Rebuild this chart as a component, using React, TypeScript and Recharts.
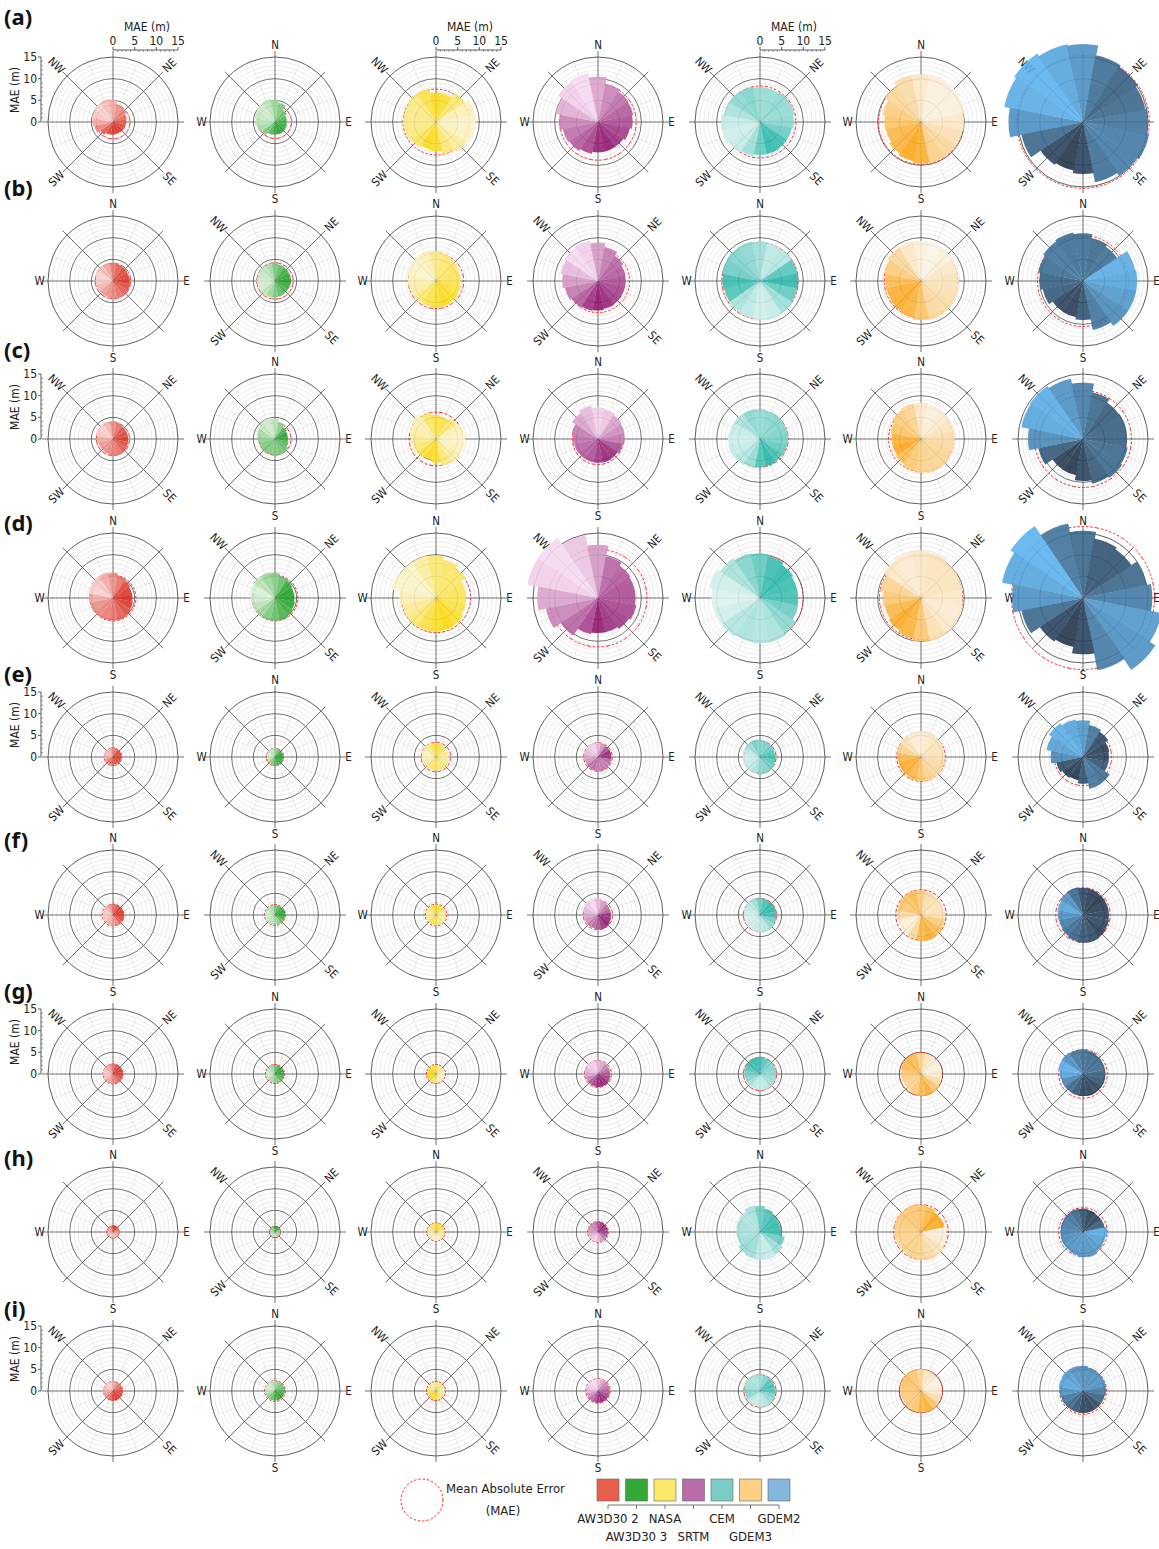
import React from 'react';
import { RadialBarChart, RadialBar, PolarAngleAxis, PolarRadiusAxis, PolarGrid, Cell } from 'recharts';

// 16 sectors, clockwise from north
const DIRS = ['N', 'NNE', 'NE', 'ENE', 'E', 'ESE', 'SE', 'SSE', 'S', 'SSW', 'SW', 'WSW', 'W', 'WNW', 'NW', 'NNW'];
const PRODUCTS = ['AW3D30 2', 'AW3D30 3', 'NASA', 'SRTM', 'CEM', 'GDEM3', 'GDEM2'];
const PANEL_TAGS = ['(a)', '(b)', '(c)', '(d)', '(e)', '(f)', '(g)', '(h)', '(i)'];
const COMPASS_TICKS = [0, 45, 90, 135, 180, 225, 270, 315];
const MAE_TICKS = [0, 1, 2, 3, 4, 5, 6, 7, 8, 9, 10, 11, 12, 13, 14, 15];

// row (a)
const barsA = [
  [5.4, 5.2, 4.2, 3.8, 3.3, 3.1, 3.0, 2.9, 2.8, 2.9, 3.0, 3.6, 4.4, 4.8, 5.0, 5.3],
  [5.4, 5.2, 4.5, 3.3, 2.8, 2.7, 2.8, 2.9, 2.9, 2.9, 3.0, 3.6, 4.2, 4.6, 4.8, 5.2],
  [7.8, 6.8, 6.8, 8.0, 9.0, 9.2, 8.8, 8.5, 7.6, 6.8, 6.5, 7.0, 7.4, 7.6, 7.6, 8.0],
  [11.5, 10.5, 9.0, 8.5, 8.3, 8.0, 7.5, 7.0, 7.0, 7.0, 7.5, 8.0, 8.3, 9.0, 10.0, 11.0],
  [8.3, 8.0, 8.0, 8.2, 8.2, 7.8, 7.5, 7.5, 7.6, 7.6, 8.0, 8.5, 9.0, 9.0, 8.6, 8.5],
  [11.0, 11.0, 11.0, 10.8, 10.5, 10.0, 9.8, 9.8, 9.6, 9.6, 9.2, 8.8, 8.3, 8.5, 9.0, 10.0],
  [18.3, 18.0, 15.7, 15.2, 14.7, 15.0, 15.5, 14.9, 14.2, 12.0, 11.4, 11.8, 14.5, 17.2, 18.5, 19.0],
];
const maeA = [3.9, 3.8, 7.6, 8.8, 8.3, 9.8, 15.3];
const shadeA = [
  [0.2, 0.3, 0.45, 0.55, 0.65, 0.75, 0.85, 0.9, 0.95, 0.9, 0.85, 0.7, 0.5, 0.3, 0.15, 0.1],
  [0.2, 0.35, 0.5, 0.6, 0.7, 0.8, 0.85, 0.9, 0.95, 0.85, 0.7, 0.5, 0.3, 0.2, 0.15, 0.1],
  [0.7, 0.9, 0.8, 0.5, 0.2, 0.1, 0.15, 0.3, 0.5, 0.85, 0.9, 0.6, 0.45, 0.4, 0.4, 0.45],
  [0.05, 0.3, 0.45, 0.55, 0.65, 0.7, 0.8, 0.85, 0.95, 0.9, 0.75, 0.65, 0.55, 0.45, 0.25, 0.1],
  [0.5, 0.4, 0.4, 0.45, 0.4, 0.45, 0.6, 0.85, 0.9, 0.65, 0.35, 0.15, 0.1, 0.15, 0.3, 0.45],
  [0.3, 0.15, 0.05, 0.05, 0.05, 0.15, 0.25, 0.35, 0.45, 0.85, 0.95, 0.8, 0.75, 0.6, 0.5, 0.35],
  [0.15, 0.3, 0.55, 0.65, 0.6, 0.5, 0.45, 0.45, 0.55, 0.85, 0.95, 0.85, 0.6, 0.3, 0.1, 0.05],
];

// row (b)
const barsB = [
  [4.3, 4.2, 4.0, 3.9, 3.8, 3.9, 4.0, 4.0, 4.1, 4.0, 3.9, 3.9, 3.9, 4.0, 4.2, 4.3],
  [4.2, 4.1, 3.9, 3.8, 3.7, 3.7, 3.6, 3.6, 3.7, 3.8, 3.9, 4.0, 4.0, 4.1, 4.2, 4.3],
  [7.2, 7.0, 6.5, 6.0, 5.7, 5.7, 5.8, 6.0, 6.1, 6.1, 6.0, 6.0, 6.1, 6.5, 6.8, 7.0],
  [9.5, 8.8, 8.0, 7.0, 6.5, 6.4, 6.4, 6.5, 6.6, 6.8, 7.0, 7.3, 7.8, 8.3, 8.8, 9.3],
  [9.3, 9.1, 8.9, 8.8, 8.8, 8.8, 8.8, 9.0, 9.2, 9.1, 8.8, 8.6, 8.5, 8.7, 9.0, 9.2],
  [9.4, 9.3, 9.0, 8.8, 8.7, 8.7, 8.8, 9.0, 9.2, 9.0, 8.7, 8.3, 8.2, 8.3, 8.7, 9.2],
  [11.4, 11.0, 10.0, 9.5, 12.3, 12.5, 12.5, 12.5, 11.5, 9.0, 8.5, 8.5, 9.5, 10.0, 10.5, 11.0],
];
const maeB = [4.1, 4.2, 6.4, 7.3, 8.8, 8.5, 10.5];
const shadeB = [
  [0.35, 0.55, 0.7, 0.8, 0.85, 0.9, 0.8, 0.7, 0.6, 0.5, 0.45, 0.35, 0.25, 0.15, 0.1, 0.2],
  [0.3, 0.5, 0.65, 0.8, 0.9, 0.95, 0.85, 0.75, 0.65, 0.5, 0.35, 0.2, 0.1, 0.1, 0.15, 0.2],
  [0.2, 0.4, 0.5, 0.55, 0.6, 0.65, 0.75, 0.85, 0.9, 0.8, 0.7, 0.5, 0.3, 0.2, 0.1, 0.1],
  [0.1, 0.35, 0.5, 0.6, 0.65, 0.7, 0.75, 0.8, 0.9, 0.95, 0.85, 0.65, 0.5, 0.35, 0.2, 0.05],
  [0.45, 0.35, 0.2, 0.25, 0.7, 0.9, 0.65, 0.35, 0.15, 0.1, 0.2, 0.3, 0.75, 0.85, 0.6, 0.5],
  [0.15, 0.05, 0.0, 0.05, 0.15, 0.2, 0.25, 0.3, 0.35, 0.6, 0.8, 0.9, 0.85, 0.7, 0.5, 0.35],
  [0.55, 0.55, 0.6, 0.55, 0.1, 0.15, 0.25, 0.35, 0.5, 0.75, 0.9, 0.85, 0.7, 0.65, 0.55, 0.5],
];

// row (c)
const barsC = [
  [4.2, 4.1, 3.9, 3.6, 3.5, 3.5, 3.6, 3.8, 3.9, 3.8, 3.6, 3.5, 3.5, 3.7, 4.0, 4.2],
  [5.0, 4.7, 4.0, 3.3, 3.0, 3.0, 3.2, 3.6, 3.8, 3.8, 3.7, 3.7, 3.7, 3.9, 4.3, 4.8],
  [6.2, 5.6, 5.3, 5.8, 6.5, 6.8, 6.5, 6.7, 6.3, 5.5, 5.0, 5.3, 5.5, 5.8, 6.3, 6.9],
  [7.8, 7.3, 7.0, 6.6, 6.3, 6.2, 5.8, 5.5, 5.6, 5.5, 5.5, 5.5, 5.6, 5.8, 6.2, 7.2],
  [7.0, 6.9, 6.7, 6.6, 6.5, 6.5, 6.4, 6.3, 6.4, 6.5, 6.8, 7.2, 7.5, 7.4, 7.2, 7.1],
  [8.4, 8.4, 8.2, 8.0, 7.8, 7.8, 7.8, 8.0, 8.0, 7.8, 7.5, 7.0, 6.7, 6.8, 7.2, 8.0],
  [14.2, 13.0, 11.0, 10.0, 10.2, 10.2, 10.5, 10.8, 10.5, 9.7, 8.5, 8.5, 10.5, 12.7, 14.5, 14.7],
];
const maeC = [3.8, 3.7, 6.2, 5.9, 6.5, 7.5, 11.2];
const shadeC = [
  [0.25, 0.45, 0.6, 0.75, 0.85, 0.9, 0.8, 0.7, 0.6, 0.55, 0.5, 0.45, 0.4, 0.3, 0.15, 0.1],
  [0.1, 0.2, 0.45, 0.75, 0.95, 0.85, 0.7, 0.6, 0.55, 0.5, 0.5, 0.55, 0.5, 0.4, 0.3, 0.15],
  [0.55, 0.75, 0.7, 0.5, 0.2, 0.1, 0.15, 0.25, 0.5, 0.85, 0.9, 0.75, 0.5, 0.35, 0.25, 0.2],
  [0.2, 0.1, 0.15, 0.3, 0.4, 0.5, 0.7, 0.85, 0.9, 0.8, 0.7, 0.65, 0.6, 0.55, 0.5, 0.3],
  [0.45, 0.4, 0.45, 0.5, 0.5, 0.55, 0.65, 0.8, 0.95, 0.75, 0.4, 0.25, 0.15, 0.1, 0.15, 0.3],
  [0.4, 0.15, 0.05, 0.1, 0.2, 0.3, 0.35, 0.4, 0.4, 0.45, 0.55, 0.7, 0.95, 0.8, 0.6, 0.5],
  [0.3, 0.45, 0.6, 0.7, 0.65, 0.65, 0.6, 0.6, 0.7, 0.85, 0.95, 0.9, 0.7, 0.35, 0.15, 0.1],
];

// row (d)
const barsD = [
  [6.0, 5.8, 5.3, 4.8, 4.5, 4.5, 4.7, 5.0, 5.2, 5.2, 5.2, 5.3, 5.4, 5.6, 5.8, 6.0],
  [6.0, 5.8, 5.2, 4.8, 4.5, 4.5, 4.7, 5.0, 5.3, 5.3, 5.3, 5.4, 5.4, 5.6, 5.8, 6.0],
  [10.0, 9.8, 9.0, 8.3, 7.0, 7.0, 7.0, 7.5, 7.7, 7.8, 7.8, 8.0, 8.0, 8.5, 10.5, 10.0],
  [14.8, 12.3, 9.8, 9.0, 8.7, 8.7, 9.0, 8.6, 8.1, 8.1, 8.5, 10.4, 12.3, 14.0, 16.6, 16.7],
  [10.5, 10.3, 9.8, 9.2, 8.8, 8.8, 9.0, 10.0, 10.5, 10.5, 10.3, 10.6, 10.8, 11.2, 11.8, 11.0],
  [11.1, 11.0, 10.7, 10.0, 9.7, 9.6, 9.8, 10.0, 10.2, 10.0, 9.5, 9.0, 8.6, 8.8, 9.5, 10.5],
  [17.5, 15.5, 14.0, 13.5, 15.0, 16.0, 18.5, 20.0, 17.0, 13.0, 11.5, 12.0, 14.5, 16.4, 19.0, 20.0],
];
const maeD = [5.3, 5.3, 8.0, 11.3, 10.0, 9.6, 16.5];
const shadeD = [
  [0.3, 0.45, 0.6, 0.8, 0.9, 0.95, 0.9, 0.8, 0.7, 0.6, 0.55, 0.5, 0.45, 0.3, 0.1, 0.15],
  [0.35, 0.45, 0.6, 0.85, 0.95, 0.95, 0.9, 0.8, 0.75, 0.6, 0.5, 0.35, 0.2, 0.1, 0.05, 0.2],
  [0.3, 0.5, 0.55, 0.55, 0.6, 0.65, 0.7, 0.85, 0.95, 0.85, 0.7, 0.5, 0.35, 0.2, 0.1, 0.1],
  [0.15, 0.35, 0.6, 0.65, 0.7, 0.7, 0.75, 0.8, 0.85, 0.95, 0.75, 0.6, 0.45, 0.3, 0.1, 0.05],
  [0.5, 0.65, 0.85, 0.9, 0.85, 0.8, 0.6, 0.45, 0.3, 0.25, 0.3, 0.25, 0.1, 0.05, 0.1, 0.3],
  [0.1, 0.15, 0.2, 0.2, 0.2, 0.15, 0.1, 0.15, 0.25, 0.55, 0.8, 0.9, 0.75, 0.55, 0.4, 0.15],
  [0.5, 0.6, 0.75, 0.75, 0.6, 0.45, 0.25, 0.3, 0.45, 0.85, 0.95, 0.85, 0.6, 0.3, 0.15, 0.05],
];

// row (e)
const barsE = [
  [2.3, 2.3, 2.1, 2.0, 2.0, 1.9, 1.9, 1.9, 1.8, 1.8, 1.8, 1.8, 1.9, 2.1, 2.2, 2.3],
  [2.1, 2.1, 2.0, 1.9, 1.9, 1.9, 1.9, 2.0, 2.0, 2.0, 1.9, 1.8, 1.8, 1.9, 2.0, 2.1],
  [3.4, 3.3, 3.1, 3.0, 2.9, 2.9, 3.0, 3.1, 3.2, 3.1, 3.0, 3.1, 3.2, 3.3, 3.4, 3.5],
  [3.4, 3.3, 3.2, 3.1, 3.1, 3.1, 3.1, 3.2, 3.3, 3.3, 3.2, 3.1, 3.1, 3.2, 3.3, 3.4],
  [4.1, 4.0, 3.8, 3.6, 3.5, 3.5, 3.6, 3.8, 4.0, 4.0, 3.9, 3.9, 3.9, 4.0, 4.1, 4.1],
  [6.0, 6.0, 5.9, 5.7, 5.5, 5.5, 5.6, 5.7, 5.7, 5.6, 5.5, 5.3, 5.3, 5.4, 5.6, 5.9],
  [8.8, 8.5, 7.5, 7.0, 6.2, 6.0, 6.0, 7.4, 7.5, 6.2, 5.5, 5.8, 6.3, 7.5, 8.6, 9.4],
];
const maeE = [2.0, 2.0, 3.4, 3.3, 3.7, 5.6, 6.6];
const shadeE = [
  [0.3, 0.5, 0.65, 0.8, 0.85, 0.9, 0.9, 0.85, 0.8, 0.75, 0.7, 0.6, 0.45, 0.3, 0.2, 0.2],
  [0.2, 0.35, 0.55, 0.75, 0.9, 0.95, 0.9, 0.85, 0.8, 0.7, 0.55, 0.4, 0.25, 0.15, 0.1, 0.15],
  [0.55, 0.85, 0.7, 0.5, 0.4, 0.3, 0.4, 0.45, 0.5, 0.6, 0.65, 0.4, 0.25, 0.15, 0.15, 0.3],
  [0.1, 0.2, 0.4, 0.7, 0.9, 0.85, 0.6, 0.5, 0.55, 0.5, 0.6, 0.55, 0.4, 0.3, 0.2, 0.1],
  [0.55, 0.5, 0.55, 0.6, 0.75, 0.85, 0.7, 0.6, 0.5, 0.45, 0.3, 0.2, 0.15, 0.1, 0.2, 0.35],
  [0.1, 0.1, 0.15, 0.2, 0.2, 0.25, 0.3, 0.35, 0.4, 0.55, 0.75, 0.85, 0.9, 0.7, 0.4, 0.2],
  [0.15, 0.25, 0.5, 0.8, 0.9, 0.85, 0.75, 0.55, 0.5, 0.75, 0.95, 0.9, 0.8, 0.35, 0.2, 0.1],
];

// row (f)
const barsF = [
  [2.6, 2.6, 2.5, 2.5, 2.5, 2.5, 2.6, 2.6, 2.7, 2.6, 2.5, 2.4, 2.3, 2.4, 2.5, 2.6],
  [2.3, 2.3, 2.3, 2.3, 2.4, 2.4, 2.3, 2.3, 2.3, 2.3, 2.2, 2.2, 2.2, 2.2, 2.3, 2.3],
  [2.4, 2.4, 2.4, 2.3, 2.3, 2.3, 2.4, 2.4, 2.4, 2.4, 2.3, 2.3, 2.3, 2.3, 2.4, 2.4],
  [4.0, 3.8, 3.4, 3.1, 3.0, 3.0, 3.1, 3.3, 3.4, 3.3, 3.2, 3.2, 3.2, 3.4, 3.6, 3.9],
  [4.0, 3.9, 3.8, 3.7, 3.7, 3.7, 3.8, 4.0, 4.1, 4.0, 3.9, 3.8, 3.7, 3.7, 3.8, 3.9],
  [5.8, 5.7, 5.5, 5.4, 5.4, 5.5, 5.7, 5.9, 6.1, 6.0, 5.7, 5.4, 5.3, 5.4, 5.6, 5.8],
  [6.5, 6.3, 6.2, 6.1, 6.0, 6.0, 6.1, 6.3, 6.5, 6.4, 6.2, 5.9, 5.7, 5.8, 6.0, 6.3],
];
const maeF = [2.5, 2.4, 2.5, 3.4, 3.8, 5.8, 6.3];
const shadeF = [
  [0.4, 0.6, 0.75, 0.9, 0.95, 0.9, 0.85, 0.7, 0.5, 0.4, 0.3, 0.25, 0.2, 0.15, 0.15, 0.2],
  [0.3, 0.5, 0.7, 0.85, 0.95, 0.9, 0.8, 0.6, 0.4, 0.3, 0.25, 0.2, 0.15, 0.1, 0.15, 0.2],
  [0.7, 0.9, 0.8, 0.6, 0.4, 0.3, 0.3, 0.4, 0.5, 0.6, 0.7, 0.55, 0.4, 0.3, 0.3, 0.45],
  [0.05, 0.2, 0.35, 0.5, 0.65, 0.85, 0.9, 0.95, 0.85, 0.7, 0.6, 0.5, 0.4, 0.3, 0.2, 0.1],
  [0.35, 0.6, 0.8, 0.9, 0.95, 0.85, 0.6, 0.4, 0.25, 0.2, 0.15, 0.1, 0.1, 0.1, 0.15, 0.2],
  [0.7, 0.5, 0.3, 0.25, 0.2, 0.25, 0.5, 0.7, 0.85, 0.75, 0.35, 0.1, 0.05, 0.3, 0.55, 0.6],
  [0.6, 0.8, 0.9, 0.95, 0.9, 0.85, 0.85, 0.9, 0.8, 0.75, 0.65, 0.55, 0.45, 0.3, 0.15, 0.3],
];

// row (g)
const barsG = [
  [2.4, 2.4, 2.3, 2.3, 2.3, 2.3, 2.3, 2.3, 2.3, 2.3, 2.2, 2.2, 2.2, 2.3, 2.3, 2.4],
  [2.1, 2.1, 2.1, 2.1, 2.1, 2.1, 2.1, 2.1, 2.1, 2.1, 2.0, 2.0, 2.0, 2.0, 2.1, 2.1],
  [2.1, 2.1, 2.0, 2.0, 2.0, 2.0, 2.0, 2.1, 2.1, 2.1, 2.0, 2.0, 2.0, 2.0, 2.1, 2.1],
  [3.2, 3.1, 3.0, 2.9, 2.8, 2.8, 2.9, 3.0, 3.0, 3.0, 2.9, 2.9, 2.9, 3.0, 3.1, 3.2],
  [3.9, 3.9, 3.8, 3.7, 3.7, 3.7, 3.7, 3.8, 3.8, 3.7, 3.6, 3.5, 3.5, 3.6, 3.7, 3.8],
  [4.9, 4.9, 4.8, 4.7, 4.7, 4.8, 4.9, 5.1, 5.2, 5.1, 4.9, 4.6, 4.5, 4.6, 4.8, 4.9],
  [5.7, 5.7, 5.5, 5.3, 5.2, 5.2, 5.2, 5.2, 5.2, 5.1, 5.0, 5.0, 5.1, 5.4, 5.8, 5.9],
];
const maeG = [2.3, 2.2, 2.2, 3.1, 3.8, 5.0, 5.6];
const shadeG = [
  [0.4, 0.6, 0.8, 0.9, 0.95, 0.9, 0.8, 0.7, 0.6, 0.5, 0.4, 0.3, 0.2, 0.15, 0.2, 0.3],
  [0.35, 0.55, 0.75, 0.9, 0.95, 0.9, 0.8, 0.7, 0.55, 0.45, 0.35, 0.25, 0.15, 0.1, 0.15, 0.25],
  [0.8, 0.7, 0.5, 0.35, 0.2, 0.15, 0.1, 0.15, 0.25, 0.4, 0.6, 0.8, 0.9, 0.95, 0.9, 0.85],
  [0.1, 0.2, 0.3, 0.45, 0.6, 0.7, 0.8, 0.9, 0.95, 0.9, 0.8, 0.65, 0.45, 0.3, 0.2, 0.1],
  [0.9, 0.85, 0.7, 0.55, 0.5, 0.45, 0.4, 0.3, 0.2, 0.15, 0.2, 0.3, 0.5, 0.6, 0.7, 0.85],
  [0.7, 0.4, 0.2, 0.1, 0.05, 0.1, 0.3, 0.55, 0.85, 0.7, 0.5, 0.4, 0.45, 0.55, 0.7, 0.75],
  [0.5, 0.55, 0.6, 0.6, 0.6, 0.65, 0.75, 0.85, 0.9, 0.85, 0.75, 0.6, 0.4, 0.15, 0.1, 0.3],
];

// row (h)
const barsH = [
  [1.4, 1.5, 1.5, 1.4, 1.4, 1.3, 1.3, 1.3, 1.3, 1.3, 1.3, 1.3, 1.3, 1.3, 1.4, 1.4],
  [1.3, 1.4, 1.4, 1.3, 1.3, 1.3, 1.2, 1.2, 1.2, 1.2, 1.2, 1.2, 1.2, 1.2, 1.3, 1.3],
  [2.1, 2.1, 2.1, 2.0, 2.0, 2.0, 2.0, 2.0, 2.1, 2.1, 2.0, 2.0, 2.0, 2.0, 2.1, 2.1],
  [2.4, 2.4, 2.4, 2.3, 2.3, 2.3, 2.3, 2.3, 2.4, 2.4, 2.3, 2.3, 2.3, 2.3, 2.4, 2.4],
  [6.3, 6.0, 5.5, 5.0, 4.8, 5.0, 5.8, 6.3, 6.6, 6.5, 6.3, 6.0, 5.4, 5.5, 5.6, 5.8],
  [6.5, 6.3, 6.0, 5.5, 5.6, 5.8, 6.0, 6.5, 6.7, 6.5, 6.3, 6.0, 6.0, 6.2, 6.3, 6.4],
  [5.5, 5.4, 5.2, 5.0, 5.0, 5.6, 5.3, 5.5, 5.9, 5.8, 5.5, 5.3, 5.3, 5.2, 5.3, 5.4],
];
const maeH = [1.4, 1.3, 2.1, 2.4, 5.0, 6.3, 5.6];
const shadeH = [
  [0.5, 0.8, 0.95, 0.8, 0.6, 0.4, 0.3, 0.25, 0.2, 0.15, 0.15, 0.15, 0.2, 0.25, 0.3, 0.4],
  [0.5, 0.85, 0.95, 0.8, 0.6, 0.4, 0.3, 0.25, 0.2, 0.15, 0.15, 0.15, 0.2, 0.25, 0.3, 0.4],
  [0.6, 0.85, 0.9, 0.7, 0.5, 0.35, 0.25, 0.2, 0.15, 0.1, 0.1, 0.15, 0.2, 0.25, 0.35, 0.45],
  [0.5, 0.7, 0.85, 0.95, 0.9, 0.8, 0.7, 0.5, 0.35, 0.2, 0.1, 0.15, 0.25, 0.35, 0.4, 0.45],
  [0.3, 0.6, 0.75, 0.85, 0.9, 0.85, 0.6, 0.35, 0.15, 0.2, 0.35, 0.4, 0.35, 0.3, 0.3, 0.25],
  [0.55, 0.6, 0.75, 0.95, 0.9, 0.05, 0.1, 0.2, 0.3, 0.4, 0.45, 0.45, 0.4, 0.45, 0.5, 0.55],
  [0.6, 0.75, 0.9, 0.85, 0.7, 0.1, 0.2, 0.25, 0.3, 0.3, 0.3, 0.3, 0.35, 0.4, 0.45, 0.5],
];

// row (i)
const barsI = [
  [2.3, 2.3, 2.3, 2.3, 2.2, 2.2, 2.2, 2.2, 2.2, 2.2, 2.2, 2.2, 2.2, 2.3, 2.3, 2.3],
  [2.4, 2.4, 2.4, 2.3, 2.3, 2.3, 2.2, 2.2, 2.2, 2.2, 2.2, 2.2, 2.3, 2.3, 2.4, 2.4],
  [2.1, 2.1, 2.1, 2.0, 2.0, 2.0, 2.0, 2.0, 2.0, 2.0, 2.0, 2.0, 2.0, 2.0, 2.1, 2.1],
  [2.8, 2.8, 2.7, 2.7, 2.7, 2.7, 2.7, 2.7, 2.7, 2.7, 2.7, 2.7, 2.7, 2.7, 2.8, 2.8],
  [3.9, 3.8, 3.7, 3.6, 3.5, 3.5, 3.6, 3.7, 3.8, 3.7, 3.6, 3.5, 3.5, 3.6, 3.8, 3.9],
  [5.1, 5.1, 5.0, 4.8, 4.7, 4.7, 4.8, 5.0, 5.1, 5.0, 4.9, 4.8, 4.7, 4.8, 5.0, 5.1],
  [5.9, 5.8, 5.6, 5.5, 5.4, 5.3, 5.0, 5.0, 5.0, 5.0, 5.0, 5.1, 5.2, 5.4, 5.7, 5.9],
];
const maeI = [2.2, 2.4, 2.2, 2.8, 3.7, 5.0, 5.4];
const shadeI = [
  [0.15, 0.3, 0.45, 0.6, 0.7, 0.8, 0.85, 0.9, 0.95, 0.85, 0.7, 0.55, 0.4, 0.3, 0.2, 0.1],
  [0.2, 0.3, 0.45, 0.55, 0.65, 0.75, 0.85, 0.95, 0.9, 0.8, 0.65, 0.5, 0.35, 0.2, 0.1, 0.1],
  [0.3, 0.4, 0.5, 0.45, 0.3, 0.2, 0.25, 0.4, 0.6, 0.8, 0.9, 0.85, 0.7, 0.5, 0.35, 0.3],
  [0.05, 0.15, 0.3, 0.45, 0.55, 0.65, 0.75, 0.85, 0.95, 0.85, 0.7, 0.55, 0.4, 0.25, 0.15, 0.05],
  [0.3, 0.35, 0.5, 0.7, 0.85, 0.75, 0.5, 0.35, 0.25, 0.2, 0.15, 0.2, 0.45, 0.5, 0.35, 0.3],
  [0.55, 0.35, 0.2, 0.1, 0.05, 0.1, 0.3, 0.6, 0.85, 0.75, 0.6, 0.5, 0.5, 0.55, 0.6, 0.6],
  [0.3, 0.35, 0.35, 0.3, 0.3, 0.45, 0.65, 0.8, 0.9, 0.85, 0.75, 0.6, 0.5, 0.3, 0.15, 0.2],
];

const ROW_BARS = [barsA, barsB, barsC, barsD, barsE, barsF, barsG, barsH, barsI];
const ROW_MAE = [maeA, maeB, maeC, maeD, maeE, maeF, maeG, maeH, maeI];
const ROW_SHADE = [shadeA, shadeB, shadeC, shadeD, shadeE, shadeF, shadeG, shadeH, shadeI];

// colour ramps per product (light -> dark)
const LIGHT = ['#fbe4e1', '#e3f4df', '#fbf5dc', '#fbe3f6', '#e2f5f3', '#fbf3e6', '#5cb8f8'];
const DARK = ['#d81e10', '#0f9a17', '#fcd700', '#880866', '#15afa1', '#fca00a', '#1b2a3e'];
const LEGEND_COLORS = ['#e8604c', '#36a83a', '#fde96a', '#b96ca9', '#79cdc5', '#fed083', '#84b7de'];

// layout
const S = 200;
const R = 65;
const MAX = 15;
const START = 101.25;
const END = -258.75;
const COL_X = [113, 275, 436, 598, 760, 921, 1083];
const ROW_Y = [122, 281, 439, 598, 757, 915, 1074, 1232, 1391];
const TAG_Y = [25, 196, 358, 531, 682, 848, 999, 1166, 1317];
const NARROW = "'Liberation Sans Narrow', 'DejaVu Sans Condensed', 'Roboto Condensed', 'Noto Sans', sans-serif";
const GRID_DARK = '#4d4d4d';

const FINE_R = [1, 2, 3, 4, 6, 7, 8, 9, 11, 12, 13, 14].map(v => (v * R) / MAX);
const MAJOR_R = [5, 10].map(v => (v * R) / MAX);
const MAJOR_ANGLES = COMPASS_TICKS.map(a => 90 - a);
const MINOR_ANGLES = COMPASS_TICKS.map(a => 90 - a - 22.5);

function hexRgb(h: string) {
  return [1, 3, 5].map(i => parseInt(h.slice(i, i + 2), 16));
}
function mix(a: string, b: string, t: number) {
  const A = hexRgb(a);
  const B = hexRgb(b);
  return `rgb(${A.map((v, i) => Math.round(v + (B[i] - v) * t)).join(',')})`;
}

const maeArc = (p: any) => {
  const { cx, cy, outerRadius: r, startAngle, endAngle } = p;
  const pt = (a: number) => [cx + r * Math.cos((-a * Math.PI) / 180), cy + r * Math.sin((-a * Math.PI) / 180)];
  const [x1, y1] = pt(startAngle);
  const [x2, y2] = pt(endAngle);
  const sweep = startAngle > endAngle ? 1 : 0;
  return (
    <path d={`M${x1},${y1} A${r},${r} 0 0 ${sweep} ${x2},${y2}`} fill="none" stroke="#f52a2a" strokeWidth={1} strokeDasharray="2.5 1.8" />
  );
};

// tick of the category angle axis: only the 8 main directions get a spoke stub and (maybe) a label
const compassTick = (p: any, diagonal: boolean) => {
  const idx = DIRS.indexOf(String(p.payload?.value));
  if (idx < 0 || idx % 2 !== 0) return <g />;
  const a = idx * 22.5;
  const isDiag = a % 90 !== 0;
  const sx = Math.sin((a * Math.PI) / 180);
  const sy = -Math.cos((a * Math.PI) / 180);
  const c = S / 2;
  const r2 = R + 6;
  const show = isDiag === diagonal;
  const off = isDiag ? 9 : a % 180 === 0 ? 6 : 2.5;
  const lx = c + sx * (r2 + off);
  const ly = c + sy * (r2 + off);
  const rot = isDiag ? (a === 45 || a === 225 ? -45 : 45) : 0;
  return (
    <g>
      <line x1={c + sx * R} y1={c + sy * R} x2={c + sx * r2} y2={c + sy * r2} stroke={GRID_DARK} strokeWidth={0.8} />
      {show && (
        <text x={lx} y={ly} textAnchor="middle" dominantBaseline="central" fontSize={11.5} fontFamily={NARROW} fill="#222"
          transform={rot ? `rotate(${rot} ${lx} ${ly})` : undefined}>
          {DIRS[idx]}
        </text>
      )}
    </g>
  );
};

const leftTick = (p: any) => {
  const v = Number(p.payload?.value);
  const major = v % 5 === 0;
  return (
    <g>
      {major
        ? <line x1={p.x - 3} y1={p.y} x2={p.x} y2={p.y} stroke="#333" strokeWidth={0.8} />
        : <line x1={p.x} y1={p.y} x2={p.x + 2} y2={p.y} stroke="#555" strokeWidth={0.6} />}
      {major && (
        <text x={p.x - 4} y={p.y} textAnchor="end" dominantBaseline="central" fontSize={12} fontFamily={NARROW} fill="#222">{v}</text>
      )}
    </g>
  );
};

const topTick = (p: any) => {
  const v = Number(p.payload?.value);
  const major = v % 5 === 0;
  return (
    <g>
      {major
        ? <line x1={p.x} y1={p.y - 3} x2={p.x} y2={p.y} stroke="#333" strokeWidth={0.8} />
        : <line x1={p.x} y1={p.y} x2={p.x} y2={p.y + 2} stroke="#555" strokeWidth={0.6} />}
      {major && (
        <text x={p.x} y={p.y - 5} textAnchor="middle" fontSize={12} fontFamily={NARROW} fill="#222">{v}</text>
      )}
    </g>
  );
};

const chartProps = (data: any[]) => ({
  width: S,
  height: S,
  cx: S / 2,
  cy: S / 2,
  innerRadius: 0,
  outerRadius: R,
  startAngle: START,
  endAngle: END,
  data,
  layout: 'centric' as const,
  barCategoryGap: 0,
  barGap: 0,
  margin: { top: 0, right: 0, bottom: 0, left: 0 },
});

function BaseLayer({ data, diagonal }: { data: any[]; diagonal: boolean }) {
  return (
    <RadialBarChart {...chartProps(data)}>
      <PolarGrid gridType="circle" polarRadius={FINE_R} polarAngles={MINOR_ANGLES} stroke="#e2e2e2" strokeWidth={0.7} />
      <PolarGrid gridType="circle" polarRadius={MAJOR_R} polarAngles={MAJOR_ANGLES} stroke={GRID_DARK} strokeWidth={0.8} />
      <PolarAngleAxis
        type="category"
        dataKey="dir"
        axisLineType="circle"
        axisLine={{ stroke: GRID_DARK, strokeWidth: 0.9 }}
        tickLine={false}
        tick={(p: any) => compassTick(p, diagonal)}
      />
      <PolarRadiusAxis type="number" domain={[0, MAX]} allowDataOverflow tick={false} axisLine={false} />
      <RadialBar dataKey="mae" isAnimationActive={false} shape={maeArc} />
    </RadialBarChart>
  );
}

function BarLayer({ data }: { data: any[] }) {
  return (
    <RadialBarChart {...chartProps(data)}>
      <PolarAngleAxis type="category" dataKey="dir" tick={false} tickLine={false} axisLine={false} />
      <PolarRadiusAxis type="number" domain={[0, MAX]} allowDataOverflow tick={false} axisLine={false} />
      <RadialBar dataKey="v" isAnimationActive={false} fillOpacity={0.88}>
        {data.map((d, i) => (
          <Cell key={i} fill={d.fill} />
        ))}
      </RadialBar>
    </RadialBarChart>
  );
}

const AXIS_DATA = DIRS.map(d => ({ dir: d }));

function ScaleAxis({ kind, x, y }: { kind: 'left' | 'top'; x: number; y: number }) {
  const w = kind === 'left' ? 50 : 90;
  const h = kind === 'left' ? 90 : 60;
  const ax = kind === 'left' ? 40 : 10;
  const ay = kind === 'left' ? 80 : 50;
  return (
    <div style={{ position: 'absolute', left: x - ax, top: y - ay, width: w, height: h }}>
      <RadialBarChart width={w} height={h} cx={ax} cy={ay} innerRadius={0} outerRadius={R} startAngle={90} endAngle={-270}
        data={AXIS_DATA} layout="centric" margin={{ top: 0, right: 0, bottom: 0, left: 0 }}>
        <PolarAngleAxis type="category" dataKey="dir" tick={false} tickLine={false} axisLine={false} />
        <PolarRadiusAxis
          type="number"
          angle={kind === 'left' ? 90 : 0}
          domain={[0, MAX]}
          ticks={MAE_TICKS}
          allowDataOverflow
          axisLine={{ stroke: '#333', strokeWidth: 0.8 }}
          tickLine={false}
          tick={kind === 'left' ? leftTick : topTick}
        />
      </RadialBarChart>
    </div>
  );
}

export default function App() {
  const panels: any[] = [];
  ROW_BARS.forEach((rowBars, r) => {
    rowBars.forEach((vals, c) => {
      const data = DIRS.map((dir, i) => ({
        dir,
        v: vals[i],
        mae: ROW_MAE[r][c],
        fill: mix(LIGHT[c], DARK[c], ROW_SHADE[r][c][i]),
      }));
      panels.push({ r, c, data, diagonal: (r + c) % 2 === 0 });
    });
  });

  const leftRows = [0, 2, 4, 6, 8];
  const topCols = [0, 2, 4];
  const swX = (i: number) => 597 + i * 28.5;

  return (
    <div style={{ position: 'absolute', left: 0, top: 0, width: 1159, height: 1549, background: '#fff', overflow: 'hidden' }}>
      {panels.map(p => (
        <div key={`base-${p.r}-${p.c}`} style={{ position: 'absolute', left: COL_X[p.c] - S / 2, top: ROW_Y[p.r] - S / 2, width: S, height: S }}>
          <BaseLayer data={p.data} diagonal={p.diagonal} />
        </div>
      ))}
      {leftRows.map(r => (
        <ScaleAxis key={`left-${r}`} kind="left" x={COL_X[0] - 72} y={ROW_Y[r]} />
      ))}
      {topCols.map(c => (
        <ScaleAxis key={`top-${c}`} kind="top" x={COL_X[c]} y={50} />
      ))}
      {panels.map(p => (
        <div key={`bars-${p.r}-${p.c}`} style={{ position: 'absolute', left: COL_X[p.c] - S / 2, top: ROW_Y[p.r] - S / 2, width: S, height: S }}>
          <BarLayer data={p.data} />
        </div>
      ))}
      <svg width={1159} height={1549} style={{ position: 'absolute', left: 0, top: 0, pointerEvents: 'none' }}>
        {PANEL_TAGS.map((t, r) => (
          <text key={t} x={4} y={TAG_Y[r]} fontSize={22} fontWeight={700} fontFamily="'Noto Sans', 'Open Sans', sans-serif" fill="#111">{t}</text>
        ))}
        {leftRows.map(r => (
          <text key={`lt-${r}`} x={0} y={0} fontSize={12} fontFamily={NARROW} fill="#222" textAnchor="middle"
            transform={`translate(19 ${ROW_Y[r] - 32}) rotate(-90)`}>MAE (m)</text>
        ))}
        {topCols.map(c => (
          <text key={`tt-${c}`} x={COL_X[c] + 34} y={31} fontSize={12} fontFamily={NARROW} fill="#222" textAnchor="middle">MAE (m)</text>
        ))}
        {/* legend */}
        <circle cx={422} cy={1500} r={21} fill="none" stroke="#f52a2a" strokeWidth={1} strokeDasharray="2.5 1.8" />
        <text x={446} y={1493} fontSize={13} fontFamily={NARROW} fill="#222">Mean Absolute Error</text>
        <text x={503} y={1515} fontSize={13} fontFamily={NARROW} fill="#222" textAnchor="middle">(MAE)</text>
        {LEGEND_COLORS.map((col, i) => (
          <rect key={col} x={swX(i)} y={1479} width={22} height={22} fill={col} stroke="#666" strokeWidth={0.6} />
        ))}
        <line x1={swX(0) + 11} y1={1505} x2={swX(6) + 11} y2={1505} stroke="#555" strokeWidth={0.8} />
        {PRODUCTS.map((name, i) => (
          <g key={name}>
            <line x1={swX(i) + 11} y1={1505} x2={swX(i) + 11} y2={1509} stroke="#555" strokeWidth={0.8} />
            <text x={swX(i) + 11} y={i % 2 === 0 ? 1523 : 1541} fontSize={13} fontFamily={NARROW} fill="#222" textAnchor="middle">{name}</text>
          </g>
        ))}
      </svg>
    </div>
  );
}
